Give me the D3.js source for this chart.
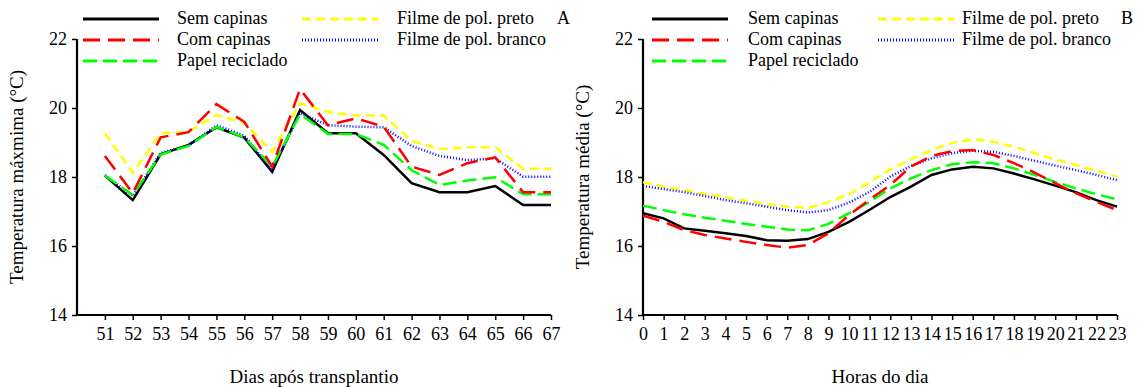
<!DOCTYPE html>
<html><head><meta charset="utf-8">
<script src="https://cdn.jsdelivr.net/npm/d3@7"></script>
<style>body{margin:0;background:#fff}svg{display:block}</style>
</head><body><svg id="c" width="1137" height="387" font-family="Liberation Serif"></svg>
<script>
// Panel A: days after transplanting
const days = [51,52,53,54,55,56,57,58,59,60,61,62,63,64,65,66,67];
const semA    = [18.04,17.33,18.66,18.93,19.44,19.14,18.15,19.94,19.27,19.27,18.64,17.82,17.56,17.56,17.74,17.19,17.19];
const comA    = [18.61,17.53,19.15,19.3,20.11,19.6,18.3,20.55,19.5,19.7,19.46,18.3,18.06,18.4,18.57,17.56,17.56];
const papelA  = [18.04,17.48,18.65,18.9,19.45,19.15,18.3,19.82,19.25,19.25,18.93,18.2,17.77,17.9,17.99,17.5,17.5];
const pretoA  = [19.27,18.12,19.27,19.31,19.8,19.57,18.73,20.14,19.89,19.78,19.78,19.05,18.81,18.86,18.86,18.24,18.24];
const brancoA = [18.05,17.45,18.7,18.9,19.5,19.2,18.2,19.85,19.5,19.46,19.44,18.9,18.61,18.49,18.54,18.01,18.01];
// Panel B: hours of the day
const hours = [0,1,2,3,4,5,6,7,8,9,10,11,12,13,14,15,16,17,18,19,20,21,22,23];
const semB    = [16.95,16.8,16.51,16.44,16.37,16.29,16.17,16.15,16.2,16.41,16.7,17.05,17.42,17.72,18.06,18.22,18.3,18.25,18.1,17.93,17.75,17.56,17.33,17.14];
const comB    = [16.88,16.7,16.46,16.32,16.22,16.12,16.03,15.95,16.03,16.37,16.9,17.35,17.77,18.3,18.61,18.75,18.78,18.64,18.4,18.13,17.82,17.53,17.28,17.04];
const papelB  = [17.17,17.04,16.92,16.82,16.73,16.64,16.56,16.48,16.46,16.64,16.95,17.28,17.67,17.96,18.2,18.37,18.43,18.4,18.25,18.06,17.86,17.67,17.5,17.35];
const pretoB  = [17.85,17.72,17.62,17.51,17.41,17.31,17.22,17.14,17.11,17.27,17.51,17.85,18.22,18.51,18.78,18.99,19.09,19.02,18.88,18.69,18.51,18.35,18.18,18.01];
const brancoB = [17.74,17.65,17.56,17.45,17.33,17.24,17.14,17.04,16.97,17.04,17.26,17.57,18.01,18.32,18.54,18.69,18.76,18.73,18.61,18.47,18.33,18.2,18.06,17.91];
const yTicks = [14,16,18,20,22];
const seriesNames = ["Sem capinas","Com capinas","Papel reciclado","Filme de pol. preto","Filme de pol. branco"];

const styles = {
  "Sem capinas":{color:"#000000",dash:null,w:2.5},
  "Com capinas":{color:"#ff0000",dash:"17,8",w:2.5},
  "Papel reciclado":{color:"#00ff00",dash:"14,6",w:2.5},
  "Filme de pol. preto":{color:"#ffff00",dash:"9,5",w:2.5},
  "Filme de pol. branco":{color:"#0000ff",dash:"1,2",w:2.5}
};
const drawOrder = ["Sem capinas","Filme de pol. preto","Filme de pol. branco","Papel reciclado","Com capinas"];
const FONT = "Liberation Serif";

const svg = d3.select("#c");

function panel(cfg){
  const g = svg.append("g");
  const x = d3.scaleLinear().domain(cfg.xdom).range([cfg.x0,cfg.x1]);
  const y = d3.scaleLinear().domain([14,22]).range([315,39]);
  const yAx = g.append("g").attr("transform",`translate(${cfg.x0},0)`)
    .call(d3.axisLeft(y).tickValues(yTicks).tickSize(5).tickPadding(5).tickFormat(d3.format("d")));
  const xAx = g.append("g").attr("transform",`translate(0,315)`)
    .call(d3.axisBottom(x).tickValues(cfg.xs).tickSize(5).tickPadding(7).tickFormat(d3.format("d")));
  [yAx,xAx].forEach(a=>{
    a.attr("font-family",FONT).attr("font-size",18);
    a.select(".domain").attr("stroke","#000").attr("stroke-width",2.2);
    a.selectAll(".tick line").attr("stroke","#000").attr("stroke-width",1.5);
    a.selectAll("text").attr("font-family",FONT).attr("font-size",18).attr("fill","#000");
  });
  xAx.select(".domain").attr("d",`M${cfg.x0},0H${cfg.x1}`);
  yAx.select(".domain").attr("d",`M0,${y(14)}V${y(22)}`);
  const line = d3.line().x((d,i)=>x(cfg.xs[i])).y(d=>y(d));
  drawOrder.forEach(n=>{
    const s = styles[n];
    g.append("path").datum(cfg.data[n]).attr("d",line).attr("fill","none")
      .attr("stroke",s.color).attr("stroke-width",s.w)
      .attr("stroke-dasharray",s.dash).attr("stroke-linejoin","miter");
  });
  g.append("text").attr("transform",`translate(${cfg.x0-54},177) rotate(-90)`)
    .attr("text-anchor","middle").attr("font-family",FONT).attr("font-size",19).text(cfg.ytitle);
  g.append("text").attr("x",(cfg.x0+cfg.x1)/2).attr("y",383)
    .attr("text-anchor","middle").attr("font-family",FONT).attr("font-size",19).text(cfg.xtitle);
  const leg = [[0,0],[0,1],[0,2],[1,0],[1,1]];
  seriesNames.forEach((n,i)=>{
    const [col,row] = leg[i];
    const s = styles[n];
    const lx = cfg.legX[col], ly = 19 + row*21;
    g.append("line").attr("x1",lx).attr("x2",lx+76).attr("y1",ly).attr("y2",ly)
      .attr("stroke",s.color).attr("stroke-width",3).attr("stroke-dasharray",s.dash);
    g.append("text").attr("x",cfg.legT[col]).attr("y",ly+5).attr("font-family",FONT).attr("font-size",18).text(n);
  });
  g.append("text").attr("x",cfg.letterX).attr("y",24).attr("font-family",FONT).attr("font-size",18).text(cfg.letter);
}

panel({xdom:[50,67], x0:77, x1:551, xs:days,
  data:{"Sem capinas":semA,"Com capinas":comA,"Papel reciclado":papelA,"Filme de pol. preto":pretoA,"Filme de pol. branco":brancoA},
  ytitle:"Temperatura máxmima (°C)", xtitle:"Dias após transplantio",
  legX:[83,302], legT:[177,397], letter:"A", letterX:557});
panel({xdom:[0,23], x0:643, x1:1117, xs:hours,
  data:{"Sem capinas":semB,"Com capinas":comB,"Papel reciclado":papelB,"Filme de pol. preto":pretoB,"Filme de pol. branco":brancoB},
  ytitle:"Temperatura média (°C)", xtitle:"Horas do dia",
  legX:[652,878], legT:[748,962], letter:"B", letterX:1121});
</script></body></html>
